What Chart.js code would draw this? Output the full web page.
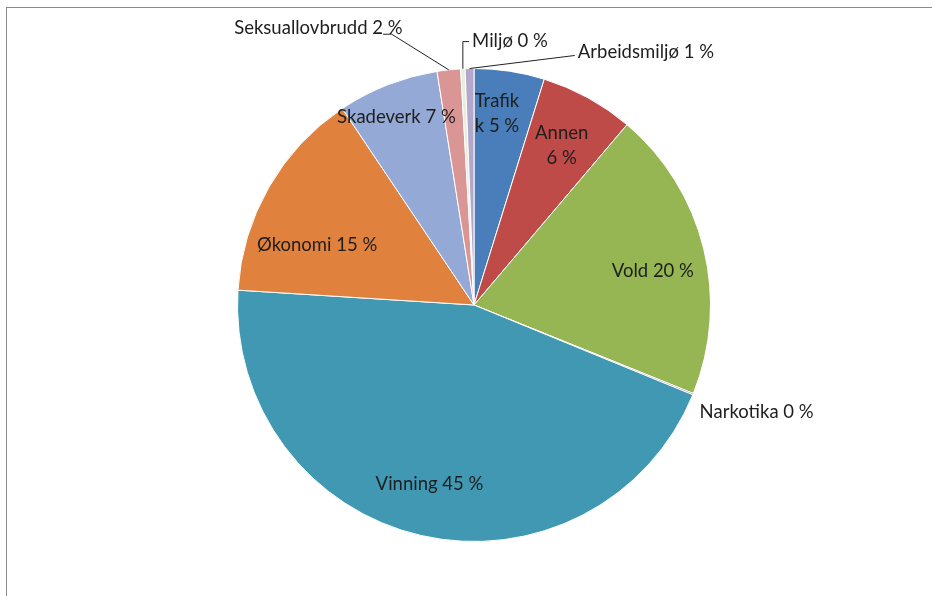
<!DOCTYPE html>
<html>
<head>
<meta charset="utf-8">
<script src="https://cdn.jsdelivr.net/npm/chart.js@4.4.0/dist/chart.umd.min.js"></script>
<style>
  html, body { margin: 0; padding: 0; background: #fff; }
  #frame { position: absolute; left: 6px; top: 7px; width: 926px; height: 589px;
           border-left: 1px solid #8a8a8a; border-top: 1px solid #8a8a8a; }
  #wrap { position: absolute; left: 0; top: 0; width: 932px; height: 596px; }
</style>
</head>
<body>
<div id="frame"></div>
<div id="wrap"><canvas id="pie" width="932" height="596"></canvas></div>
<script>
// share of cases per category (percent), clockwise from 12 o'clock
const categories = ['Trafikk', 'Annen', 'Vold', 'Narkotika', 'Vinning', 'Økonomi',
                    'Skadeverk', 'Seksuallovbrudd', 'Miljø', 'Arbeidsmiljø'];
const shares = [4.8, 6.4, 19.9, 0.1, 44.8, 14.6, 6.9, 1.6, 0.3, 0.6];
const colors = ['#4a7ebb', '#be4b48', '#96b553', '#8a74aa', '#4198b2', '#e0823d',
                '#94a9d5', '#d99694', '#e8eedb', '#b4a7cc'];

// label placement, in units of the pie radius
const labelLayout = {
  'Trafikk':   { r: 0.815, da: -1.8, breakAt: 6 },
  'Annen':     { r: 0.77, da: 0, breakAt: 5 },
  'Vold':      { r: 0.77, da: 3 },
  'Vinning':   { r: 0.78, da: 1 },
  'Økonomi':   { r: 0.71, da: -9 },
  'Skadeverk': { r: 0.86, da: -1 },
  'Narkotika':       { out: [0.954, 0.451], align: 'left' },
  'Seksuallovbrudd': { out: [-0.658, -1.173], align: 'center', leader: [[-0.385, -1.145], [-0.348, -1.145]] },
  'Miljø':           { out: [-0.008, -1.118], align: 'left', leader: 'elbow' },
  'Arbeidsmiljø':    { out: [0.439, -1.068], align: 'left', leader: [[0.426, -1.055]] }
};

const FONT = '18.5px Lato';
const TEXT = '#1e1e1e';

const pieLabels = {
  id: 'pieLabels',
  afterDatasetsDraw(chart) {
    const ctx = chart.ctx;
    const meta = chart.getDatasetMeta(0);
    ctx.save();
    ctx.font = FONT;
    ctx.fillStyle = TEXT;
    ctx.strokeStyle = '#222';
    ctx.lineWidth = 1;
    ctx.textBaseline = 'middle';
    meta.data.forEach((arc, i) => {
      const p = arc.getProps(['x', 'y', 'startAngle', 'endAngle', 'outerRadius'], true);
      const R = p.outerRadius;
      const name = categories[i];
      const lay = labelLayout[name];
      const text = name + ' ' + Math.round(shares[i]) + ' %';
      const mid = (p.startAngle + p.endAngle) / 2;
      if (lay.out) {
        const tx = p.x + lay.out[0] * R, ty = p.y + lay.out[1] * R;
        ctx.textAlign = lay.align;
        ctx.fillText(text, tx, ty);
        const ex = p.x + Math.cos(mid) * R, ey = p.y + Math.sin(mid) * R;
        if (lay.leader === 'elbow') {
          ctx.beginPath();
          ctx.moveTo(tx - 3, ty + 1);
          ctx.lineTo(ex, ty + 1);
          ctx.lineTo(ex, ey);
          ctx.stroke();
        } else if (lay.leader) {
          ctx.beginPath();
          lay.leader.forEach((pt, k) => {
            const lx = p.x + pt[0] * R, ly = p.y + pt[1] * R;
            if (k === 0) ctx.moveTo(lx, ly); else ctx.lineTo(lx, ly);
          });
          ctx.lineTo(ex, ey);
          ctx.stroke();
        }
      } else {
        const a = mid + lay.da * Math.PI / 180;
        const cx = p.x + Math.cos(a) * lay.r * R, cy = p.y + Math.sin(a) * lay.r * R;
        ctx.textAlign = 'center';
        if (lay.breakAt) {
          const first = text.slice(0, lay.breakAt).trim();
          const second = text.slice(lay.breakAt).trim();
          ctx.fillText(first, cx, cy - 12.5);
          ctx.fillText(second, cx, cy + 12.5);
        } else {
          ctx.fillText(text, cx, cy);
        }
      }
    });
    ctx.restore();
  }
};

new Chart(document.getElementById('pie'), {
  type: 'pie',
  data: {
    labels: categories,
    datasets: [{
      data: shares,
      backgroundColor: colors,
      borderColor: '#ffffff',
      borderWidth: 1
    }]
  },
  options: {
    responsive: false,
    animation: false,
    layout: { padding: { left: 16, right: 0, top: 68, bottom: 54 } },
    plugins: {
      legend: { display: false },
      tooltip: { enabled: false }
    }
  },
  plugins: [pieLabels]
});
</script>
</body>
</html>
